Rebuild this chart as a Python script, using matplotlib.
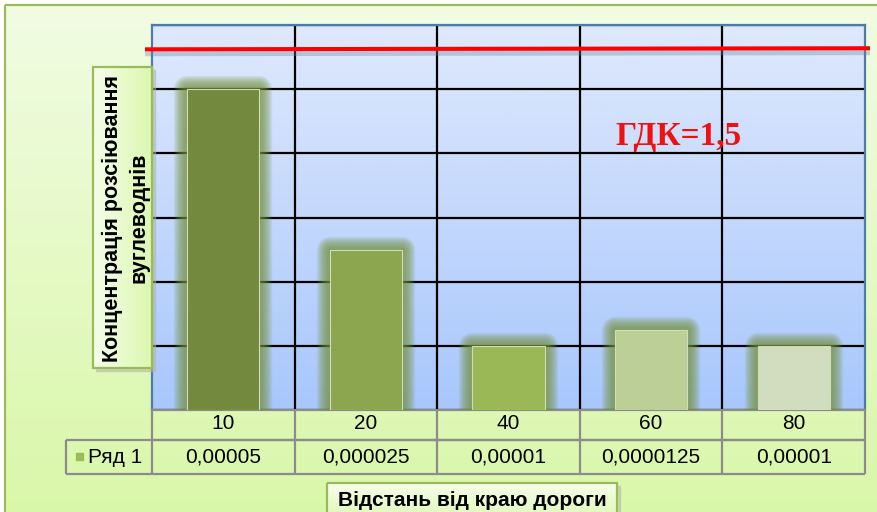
import numpy as np
import matplotlib
matplotlib.use("Agg")
import matplotlib.pyplot as plt
from matplotlib.patches import Rectangle
from matplotlib.colors import to_rgb
import matplotlib.patheffects as pe

plt.rcParams['font.family'] = ['Liberation Sans', 'DejaVu Sans']

# ---- data ----
distances = ['10', '20', '40', '60', '80']
concentration = [0.00005, 0.000025, 0.00001, 0.0000125, 0.00001]
value_labels = ['0,00005', '0,000025', '0,00001', '0,0000125', '0,00001']
series_name = 'Ряд 1'
bar_colors = ['#738a3e', '#8ba64f', '#9bb856', '#bbcf97', '#d2dcbf']
y_title = 'Концентрація розсіювання\nвуглеводнів'
x_title = 'Відстань від краю дороги'
limit_label = 'ГДК=1,5'
y_max = 0.00006
y_step = 0.00001

W, H = 877, 512
fig = plt.figure(figsize=(W / 100, H / 100), dpi=100)
fig.patch.set_facecolor('white')


def pixel_axes(z):
    a = fig.add_axes([0, 0, 1, 1], zorder=z)
    a.axis('off')
    return a


def fix_limits(a):
    a.set_xlim(0, W)
    a.set_ylim(H, 0)


def gradient(a, x0, y0, x1, y1, c_start, c_end, z=0, horizontal=False):
    t = np.linspace(0, 1, 256)
    c0 = np.array(to_rgb(c_start))
    c1 = np.array(to_rgb(c_end))
    g = c0[None, :] * (1 - t[:, None]) + c1[None, :] * t[:, None]
    img = g[None, :, :] if horizontal else g[:, None, :]
    a.imshow(img, extent=(x0, x1, y1, y0), aspect='auto', zorder=z,
             interpolation='bilinear')


# ---- chart area background ----
bg = pixel_axes(0)
gradient(bg, 5, 5, W + 10, H + 10, '#f1fce3', '#d9f7a8', z=0)
bg.add_patch(Rectangle((5, 5), W + 10, H + 10, fill=False,
                       edgecolor='#9bbb59', lw=1.6, zorder=1))
fix_limits(bg)

# ---- plot area ----
ax = fig.add_axes([152 / W, (H - 410) / H, 713 / W, 385 / H], zorder=1)
ax.patch.set_visible(False)
ax.imshow(np.linspace(0, 1, 256)[:, None], cmap=matplotlib.colors.LinearSegmentedColormap.from_list(
    'plotbg', ['#dfe9fc', '#a8c7fc']), extent=(-0.5, 4.5, 0, y_max),
    aspect='auto', zorder=0, interpolation='bilinear', origin='upper')
ax.set_xlim(-0.5, 4.5)
ax.set_ylim(0, y_max)
ax.set_axisbelow(True)

ax.set_yticks(np.arange(0, y_max + y_step / 2, y_step))
ax.tick_params(axis='y', length=0, labelleft=False)
ax.yaxis.grid(True, color='black', lw=1.6)

ax.set_xticks(range(len(distances)), distances)
ax.set_xticks(np.arange(0.5, len(distances) - 0.5, 1), minor=True)
ax.tick_params(axis='x', which='both', length=0, labelsize=15, pad=3)
ax.xaxis.grid(True, which='minor', color='black', lw=1.6)

for side in ('left', 'top', 'right'):
    ax.spines[side].set_color('#4f7ba8')
    ax.spines[side].set_linewidth(1.6)
ax.spines['bottom'].set_color('#8c8c8c')
ax.spines['bottom'].set_linewidth(1.6)

# bars with soft glow
glow = [pe.Stroke(linewidth=w, foreground='#76923c', alpha=0.1,
                  joinstyle='round') for w in np.linspace(19, 3, 12)]
bars = ax.bar(range(len(concentration)), concentration, width=0.505,
              color=bar_colors, edgecolor='#cfdcb4', lw=0.8, zorder=3)
for b in bars:
    b.set_path_effects(glow + [pe.Normal()])

# limit line and label
ax.plot([-0.0098, 1.007], [0.9369, 0.9397], transform=ax.transAxes,
        clip_on=False, color='#ff0000', lw=2.9, zorder=6,
        solid_capstyle='butt',
        path_effects=[pe.SimpleLineShadow(offset=(0, -2.5), shadow_color='#7080a0',
                                          alpha=0.35, linewidth=5),
                      pe.Normal()])
ax.text(0.738, 0.71, limit_label, transform=ax.transAxes, ha='center',
        va='center', fontsize=24, fontweight='bold', color='#f01010',
        family=['Liberation Serif', 'DejaVu Serif'], zorder=7)

# ---- data table ----
xt = ax.get_xaxis_transform()
row1 = -30 / 385
row2 = -64 / 385
ax.vlines(np.arange(-0.5, len(distances), 1), row2, 0, transform=xt,
          color='#8c8c8c', lw=1.6, clip_on=False, zorder=5)
ax.hlines([row1], 0, 1, transform=ax.transAxes, color='#8c8c8c', lw=1.6,
          clip_on=False, zorder=5)
legend_left = (66 - 152) / 713
ax.hlines([row1, row2], legend_left, 1, transform=ax.transAxes,
          color='#8c8c8c', lw=1.6, clip_on=False, zorder=5)
ax.vlines([legend_left], row2, row1, transform=ax.transAxes,
          color='#8c8c8c', lw=1.6, clip_on=False, zorder=5)
for i, lab in enumerate(value_labels):
    ax.text(i, (row1 + row2) / 2, lab, transform=xt, ha='center', va='center',
            fontsize=15, clip_on=False)

top = pixel_axes(5)
top.add_patch(Rectangle((76, 453), 7, 7, color='#9bbb59', zorder=2))
top.text(88, 457.5, series_name, ha='left', va='center', fontsize=15)

# axis title boxes
top.add_patch(Rectangle((96, 70), 59, 301, color='#b0b8a0', alpha=0.5, zorder=1))
gradient(top, 93, 67, 152, 368, '#f5fde9', '#dcf8b0', z=2, horizontal=True)
top.add_patch(Rectangle((93, 67), 59, 301, fill=False, edgecolor='#9bbb59',
                        lw=1.6, zorder=3))
top.text(126, 218, y_title, rotation=90, ha='center', va='center',
         fontsize=15.5, fontweight='bold', linespacing=1.35, multialignment='center',
         zorder=4)

top.add_patch(Rectangle((330, 486), 290, 40, color='#b0b8a0', alpha=0.5, zorder=1))
gradient(top, 327, 483, 617, 525, '#f5fde9', '#dcf8b0', z=2)
top.add_patch(Rectangle((327, 483), 290, 42, fill=False, edgecolor='#9bbb59',
                        lw=1.6, zorder=3))
top.text(472, 500, x_title, ha='center', va='center', fontsize=15,
         fontweight='bold', zorder=4)
fix_limits(top)

fig.savefig('out.png', dpi=100)
